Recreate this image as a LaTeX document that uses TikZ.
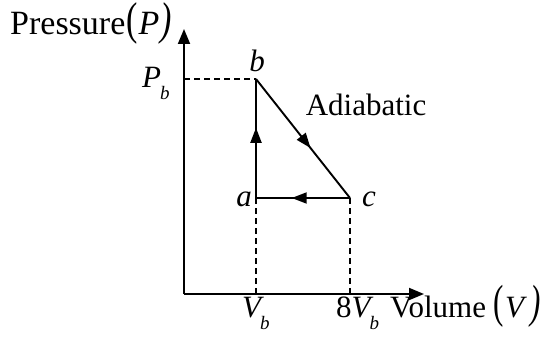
\documentclass[tikz,border=0pt]{standalone}
\usepackage{fontspec}
\setmainfont{Liberation Serif}
\usetikzlibrary{arrows.meta,decorations.markings}
\newcommand{\mysub}[1]{\raisebox{-12pt}{\fontsize{19}{19}\selectfont\itshape #1}}
\newcommand{\bigpar}[2][1.5]{\scalebox{1}[#1]{#2}}
\tikzset{
  axis/.style={line width=1.9pt,-{Triangle[length=15pt,width=12pt]}},
  path/.style={line width=1.9pt},
  guide/.style={line width=1.4pt,dash pattern=on 6pt off 4pt},
  lbl/.style={inner sep=0pt,anchor=base,font=\fontsize{31}{36}\selectfont},
  midarrow/.style={postaction={decorate},decoration={markings,
     mark=at position #1 with {\arrow{Triangle[length=15pt,width=11pt]}}}}
}
\begin{document}
\begin{tikzpicture}[x=1pt,y=-1pt]
\useasboundingbox (0,0) rectangle (552,337);
\coordinate (O) at (184,294);
\coordinate (yend) at (184,29);
\coordinate (xend) at (424,294);
\coordinate (b) at (256,79);
\coordinate (a) at (256,198);
\coordinate (c) at (350,198);
\coordinate (pb) at (184,79);
\coordinate (va) at (256,294);
\coordinate (vc) at (350,294);
% axes
\draw[axis] (O) -- (yend);
\draw[axis] (O) -- (xend);
% guides
\draw[guide] (pb) -- (b);
\draw[guide] (a) -- (va);
\draw[guide] (c) -- (vc);
% cycle
\draw[path,midarrow=0.59] (a) -- (b);
\draw[path,midarrow=0.58] (b) -- (c);
\draw[path,midarrow=0.62] (c) -- (a);
% labels
\node[lbl,anchor=base west,font=\fontsize{34}{40}\selectfont] (plab) at (10,35) {Pressure\kern1pt\bigpar[1.35]{(}\kern1pt\itshape P\kern1pt\bigpar[1.35]{)}};
\node[lbl,anchor=base west] (pblab) at (142,88) {\itshape P\kern-1pt\mysub{b}};
\node[lbl] (blab) at (257,72) {\itshape b};
\node[lbl] (alab) at (244,206) {\itshape a};
\node[lbl] (clab) at (369,206) {\itshape c};
\node[lbl] (adlab) at (366,115) {Adiabatic};
\node[lbl,anchor=base west] (vblab) at (242,317) {\itshape V\kern-1pt\mysub{b}};
\node[lbl,anchor=base west] (v8lab) at (336,317) {8\itshape V\kern-1pt\mysub{b}};
\node[lbl,anchor=base west] (vollab) at (390,317) {Volume \bigpar{(}\kern1pt\itshape V\kern6pt\bigpar{)}};
\end{tikzpicture}
\end{document}
